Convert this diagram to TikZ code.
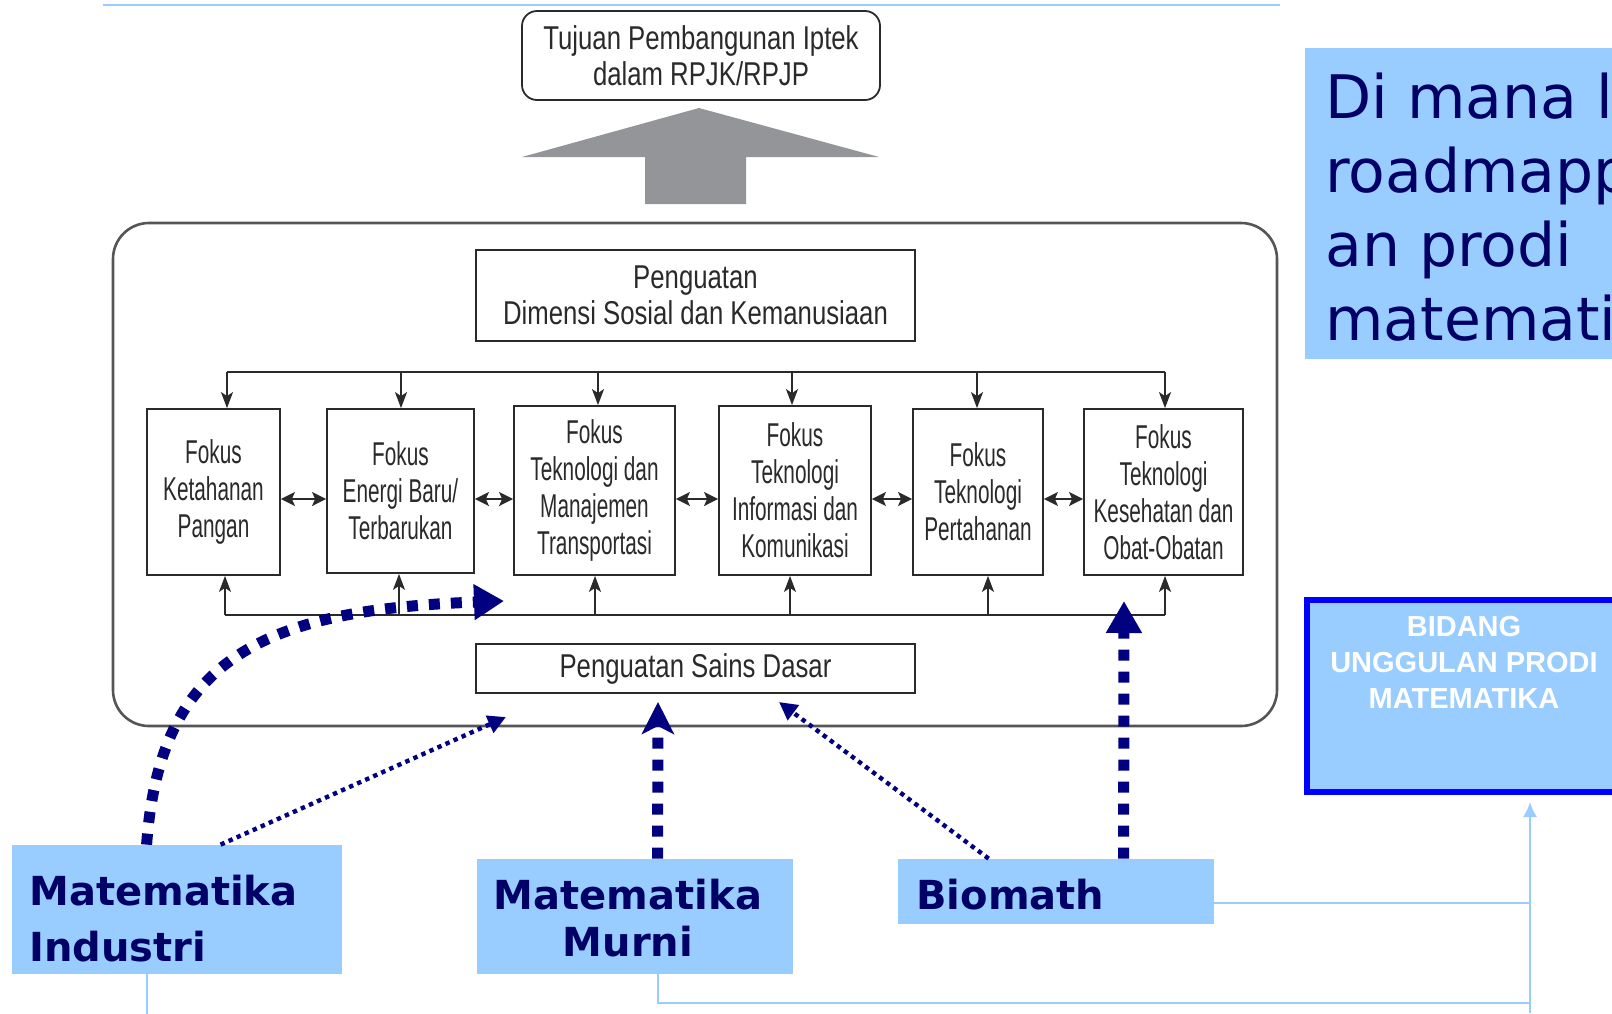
\documentclass[tikz,border=0pt]{standalone}
\usepackage{fontspec}
\setmainfont{Liberation Sans}
\newfontfamily\condfont{Liberation Sans}[FakeStretch=0.78]
\newfontfamily\narrowfont{Liberation Sans}[FakeStretch=0.63]
\newfontfamily\verdfont{DejaVu Sans}
\usetikzlibrary{arrows.meta,fit,calc}

\definecolor{skyfill}{HTML}{99CCFF}
\definecolor{navyink}{HTML}{000080}
\definecolor{labelink}{HTML}{000066}
\definecolor{boxink}{HTML}{2A2A2A}
\definecolor{framegrey}{HTML}{555555}
\definecolor{bigarrow}{HTML}{939598}
\definecolor{brightblue}{HTML}{0000FF}

\tikzset{
  plainbox/.style={draw=boxink, line width=0.9pt, inner sep=0pt, align=center,
    text=boxink, font=\condfont\fontsize{16.5}{18}\selectfont},
  fokusbox/.style={plainbox, font=\narrowfont\fontsize{16.5}{18.5}\selectfont},
  thinlink/.style={draw=boxink, line width=0.9pt},
  downtip/.style={-{Stealth[length=8pt,width=6pt,inset=2pt]}},
  bothtips/.style={{Stealth[length=7pt,width=7pt,inset=1.5pt]}-{Stealth[length=7pt,width=7pt,inset=1.5pt]}},
  skybox/.style={fill=skyfill, draw=none, inner sep=0pt},
  skyline/.style={draw=skyfill, line width=1pt},
  boldlabel/.style={text=labelink, inner sep=0pt,
    font=\verdfont\bfseries\fontsize{20}{28}\selectfont},
  heavydash/.style={draw=navyink, line width=5.5pt, dash pattern=on 5.5pt off 5.5pt},
  finedot/.style={draw=navyink, line width=2.2pt, dash pattern=on 2.2pt off 2.2pt},
}

\begin{document}
\begin{tikzpicture}[x=0.5pt,y=-0.5pt]
\useasboundingbox (0,0) rectangle (1612,1013);
\clip (0,0) rectangle (1612,1013);
\fill[white] (0,0) rectangle (1612,1013);

% rule along the top
\draw[skyline] (103,5) -- (1280,5);

% goal box and the broad arrow pointing to it
\node[plainbox, rounded corners=7.5pt, minimum width=179pt, minimum height=44.5pt]
  (goal) at (701,55.5) {Tujuan Pembangunan Iptek\\dalam RPJK/RPJP};
\fill[bigarrow] (699,108) -- (879,157) -- (746,157) -- (746,204)
  -- (645,204) -- (645,157) -- (522,157) -- cycle;

% outer frame
\node[draw=framegrey, line width=1.3pt, rounded corners=18pt, inner sep=0pt,
  fit={(113,223)(1277,726)}] (frame) {};

% social dimension and basic science boxes
\node[plainbox, minimum width=219.5pt, minimum height=45.5pt] (sosial)
  at (695.5,295.5) {Penguatan\\Dimensi Sosial dan Kemanusiaan};
\node[plainbox, minimum width=219.5pt, minimum height=24.5pt] (sains)
  at (695.5,668.5) {Penguatan Sains Dasar};

% six focus areas
\node[fokusbox, minimum width=66.5pt, minimum height=83pt] (f1) at (213.5,492)
  {Fokus\\Ketahanan\\Pangan};
\node[fokusbox, minimum width=73.5pt, minimum height=82pt] (f2) at (400.5,491)
  {Fokus\\Energi Baru/\\Terbarukan};
\node[fokusbox, minimum width=80.5pt, minimum height=84.5pt] (f3) at (594.5,490.5)
  {Fokus\\Teknologi dan\\Manajemen\\Transportasi};
\node[fokusbox, minimum width=76pt, minimum height=84.5pt] (f4) at (795,490.5)
  {Fokus\\Teknologi\\Informasi dan\\Komunikasi};
\node[fokusbox, minimum width=65pt, minimum height=83pt] (f5) at (978,492)
  {Fokus\\Teknologi\\Pertahanan};
\node[fokusbox, minimum width=79.5pt, minimum height=83pt] (f6) at (1163.5,492)
  {Fokus\\Teknologi\\Kesehatan dan\\Obat-Obatan};

% distribution line above the focus boxes
\coordinate (t1) at (227,372);
\coordinate (t2) at (401,372);
\coordinate (t3) at (598,372);
\coordinate (t4) at (792,372);
\coordinate (t5) at (977,372);
\coordinate (t6) at (1165,372);
\draw[thinlink] (t1) -- (t6);
\foreach \i in {1,...,6}
  \draw[thinlink, downtip] (t\i) -- (t\i |- f\i.north);

% collecting line below the focus boxes
\coordinate (b1) at (225,615);
\coordinate (b2) at (399,615);
\coordinate (b3) at (595,615);
\coordinate (b4) at (790,615);
\coordinate (b5) at (988,615);
\coordinate (b6) at (1165,615);
\draw[thinlink] (b1) -- (b6);
\foreach \i in {1,...,6}
  \draw[thinlink, downtip] (b\i) -- (b\i |- f\i.south);

% links between neighbouring focus boxes
\coordinate (midrow) at (0,499);
\foreach \a/\b in {f1/f2,f2/f3,f3/f4,f4/f5,f5/f6}
  \draw[thinlink, bothtips] (\a.east |- midrow) -- (\b.west |- midrow);

% study programme areas
\node[skybox, fit={(12,845)(342,974)}] (ind) {};
\node[boldlabel, anchor=north west, align=left] (indtext) at (29,875)
  {Matematika\\Industri};
\node[skybox, fit={(477,859)(793,974)}] (mur) {};
\node[boldlabel, anchor=north, align=center,
  font=\verdfont\bfseries\fontsize{20}{23.5}\selectfont] (murtext) at (628,879)
  {Matematika\\Murni};
\node[skybox, fit={(898,859)(1214,924)}] (bio) {};
\node[boldlabel, anchor=base west] (biotext) at (916,909) {Biomath};

% question box
\node[skybox, fit={(1305,48)(1640,359)}] (tanya) {};
\node[text=labelink, inner sep=0pt, anchor=north west, align=left,
  font=\verdfont\fontsize{30}{37}\selectfont] (tanyatext) at (1325,73)
  {Di mana l\\roadmapp\\an prodi\\matemati};

% flagship field box
\node[fill=skyfill, draw=brightblue, line width=3pt, inner sep=0pt,
  fit={(1307,600)(1624,792)}] (bidang) {};
\node[text=white, inner sep=0pt, anchor=north, align=center,
  font=\bfseries\fontsize{14.5}{18}\selectfont] (bidangtext) at (1464,616)
  {BIDANG\\UNGGULAN PRODI\\MATEMATIKA};

% thin feeder lines to the flagship box
\coordinate (busB) at (1530,1013);
\coordinate (busRow) at (1530,1003);
\coordinate (bidtip) at (1530,802);
\draw[skyline, -{Latex[length=7.5pt,width=7pt]}] (busB) -- (bidtip);
\draw[skyline] ($(bio.south east)+(0,-21)$) -| (busB);
\draw[skyline] ($(mur.south west)+(181,0)$) |- (busRow);
\draw[skyline] ($(ind.south west)+(135,0)$) -- ++(0,40);

% contributions of each area
\coordinate (tipF3) at (504,601);
\coordinate (tipS1) at (506,717);
\coordinate (tipS2) at (658,702);
\coordinate (tipS3) at (779,702);
\coordinate (tipF6) at (1124,601);
\draw[heavydash, -{Triangle[length=15pt,width=17pt]}]
  ($(ind.north west)+(135,0)$) .. controls (160,660) and (260,610) .. (tipF3);
\draw[finedot, -{Triangle[length=9pt,width=9pt]}]
  ($(ind.north west)+(209,0)$) -- (tipS1);
\draw[heavydash, -{Stealth[length=16pt,width=16pt,inset=4pt]}]
  ($(mur.north west)+(181,0)$) -- (tipS2);
\draw[finedot, -{Triangle[length=9pt,width=9pt]}]
  ($(bio.north west)+(91,0)$) -- (tipS3);
\draw[heavydash, -{Triangle[length=16pt,width=17pt]}]
  ($(bio.north west)+(226,0)$) -- (tipF6);
\end{tikzpicture}
\end{document}
